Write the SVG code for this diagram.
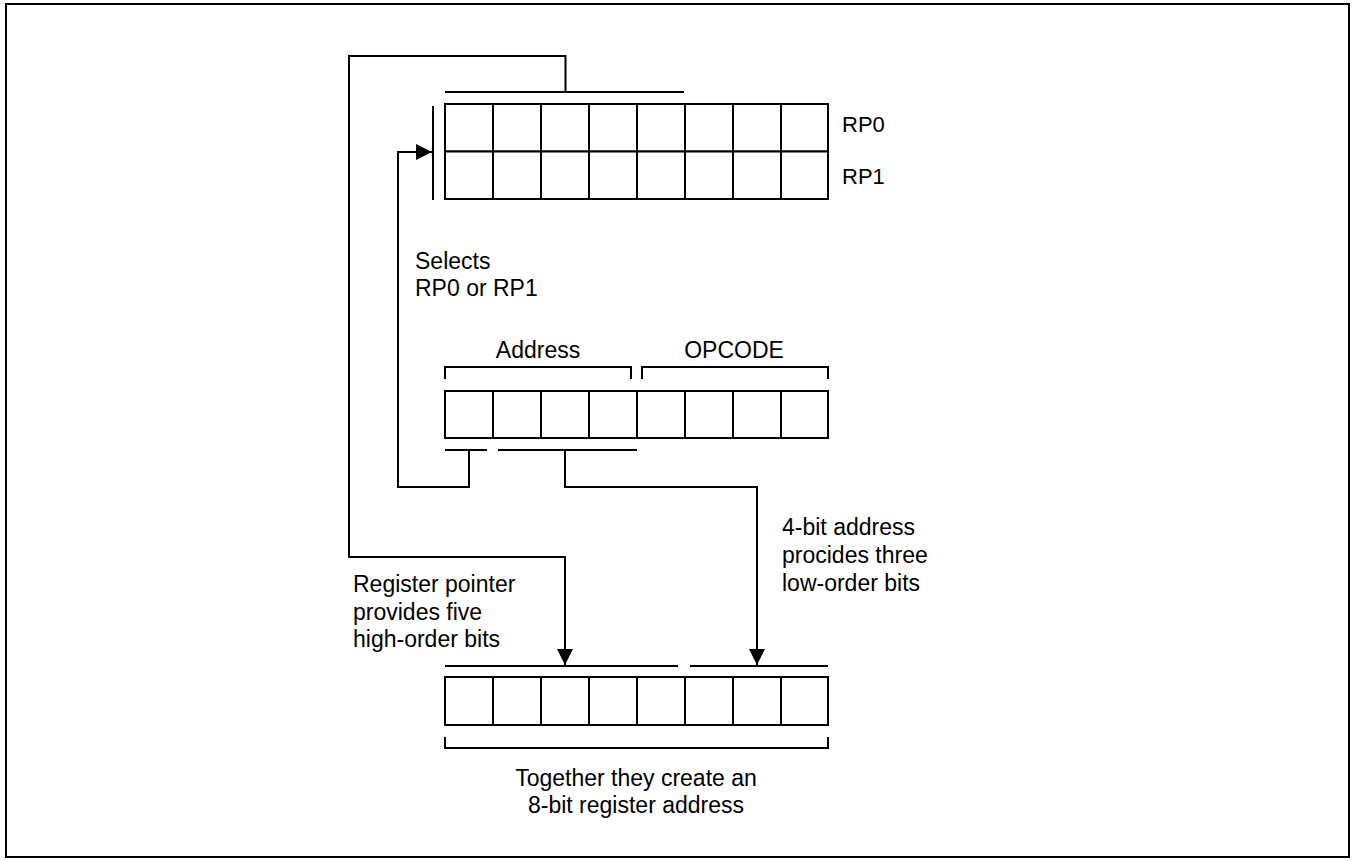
<svg xmlns="http://www.w3.org/2000/svg" width="1356" height="861" viewBox="0 0 1356 861">
<style>
.ln{fill:none;stroke:#000;stroke-width:2}
.cell{fill:#fff;stroke:#000;stroke-width:2}
.t{font-family:"Liberation Sans",Arial,sans-serif;font-size:23px;fill:#000}
.rp{font-family:"Liberation Sans",Arial,sans-serif;font-size:22px;fill:#000}
</style>
<defs>
<marker id="ah" viewBox="0 0 16 16" refX="16" refY="8" markerWidth="16" markerHeight="16" markerUnits="userSpaceOnUse" orient="auto">
<path d="M0,0 L16,8 L0,16 Z" fill="#000"/>
</marker>
</defs>
<rect x="6" y="4" width="1343" height="853" fill="#fff" stroke="#000" stroke-width="2"/>

<g id="register-pointer">
<rect class="cell" x="445" y="104" width="48" height="47.5"/>
<rect class="cell" x="493" y="104" width="48" height="47.5"/>
<rect class="cell" x="541" y="104" width="48" height="47.5"/>
<rect class="cell" x="589" y="104" width="48" height="47.5"/>
<rect class="cell" x="637" y="104" width="48" height="47.5"/>
<rect class="cell" x="685" y="104" width="48" height="47.5"/>
<rect class="cell" x="733" y="104" width="48" height="47.5"/>
<rect class="cell" x="781" y="104" width="47" height="47.5"/>
<rect class="cell" x="445" y="151.5" width="48" height="47.5"/>
<rect class="cell" x="493" y="151.5" width="48" height="47.5"/>
<rect class="cell" x="541" y="151.5" width="48" height="47.5"/>
<rect class="cell" x="589" y="151.5" width="48" height="47.5"/>
<rect class="cell" x="637" y="151.5" width="48" height="47.5"/>
<rect class="cell" x="685" y="151.5" width="48" height="47.5"/>
<rect class="cell" x="733" y="151.5" width="48" height="47.5"/>
<rect class="cell" x="781" y="151.5" width="47" height="47.5"/>
<path class="ln" d="M445,92 H684"/>
<path class="ln" d="M433,106 V200"/>
<text class="rp" x="842" y="132">RP0</text>
<text class="rp" x="842" y="184">RP1</text>
</g>

<g id="instruction">
<rect class="cell" x="445" y="391" width="48" height="47"/>
<rect class="cell" x="493" y="391" width="48" height="47"/>
<rect class="cell" x="541" y="391" width="48" height="47"/>
<rect class="cell" x="589" y="391" width="48" height="47"/>
<rect class="cell" x="637" y="391" width="48" height="47"/>
<rect class="cell" x="685" y="391" width="48" height="47"/>
<rect class="cell" x="733" y="391" width="48" height="47"/>
<rect class="cell" x="781" y="391" width="47" height="47"/>
<path class="ln" d="M445,379 V367 H631 V379"/>
<path class="ln" d="M642,379 V367 H828 V379"/>
<path class="ln" d="M445,450 H487"/>
<path class="ln" d="M498,450 H637"/>
<text class="t" x="538" y="358" text-anchor="middle">Address</text>
<text class="t" x="734" y="358" text-anchor="middle">OPCODE</text>
</g>

<g id="register-address">
<rect class="cell" x="445" y="677" width="48" height="48"/>
<rect class="cell" x="493" y="677" width="48" height="48"/>
<rect class="cell" x="541" y="677" width="48" height="48"/>
<rect class="cell" x="589" y="677" width="48" height="48"/>
<rect class="cell" x="637" y="677" width="48" height="48"/>
<rect class="cell" x="685" y="677" width="48" height="48"/>
<rect class="cell" x="733" y="677" width="48" height="48"/>
<rect class="cell" x="781" y="677" width="47" height="48"/>
<path class="ln" d="M445,666 H678"/>
<path class="ln" d="M690,666 H828"/>
<path class="ln" d="M445,737 V748 H828 V737"/>
<text class="t" x="636" y="786" text-anchor="middle">Together they create an</text>
<text class="t" x="636" y="813" text-anchor="middle">8-bit register address</text>
</g>

<g id="labels">
<text class="t" x="415" y="269">Selects</text>
<text class="t" x="415" y="296">RP0 or RP1</text>
<text class="t" x="353" y="592">Register pointer</text>
<text class="t" x="353" y="620">provides five</text>
<text class="t" x="353" y="647">high-order bits</text>
<text class="t" x="782" y="535">4-bit address</text>
<text class="t" x="782" y="563">procides three</text>
<text class="t" x="782" y="591">low-order bits</text>
</g>

<g id="connectors">
<path class="ln" d="M565.5,92 V56 H349 V557 H565 V665" marker-end="url(#ah)"/>
<path class="ln" d="M469,450 V487 H398 V152 H432" marker-end="url(#ah)"/>
<path class="ln" d="M565,450 V487 H757 V665" marker-end="url(#ah)"/>
</g>
</svg>
